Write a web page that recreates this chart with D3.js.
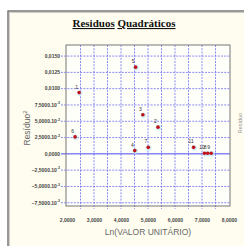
<!DOCTYPE html>
<html lang="en">
<head>
    <meta charset="UTF-8">
    <title>Residuos Quadraticos</title>
    <style>
        body { margin: 0; background: #fff; }
        svg { display: block; }
    </style>
    <script src="https://cdn.jsdelivr.net/npm/d3@7"></script>
</head>
<body>
    <svg id="chart" width="244" height="246"></svg>
    <script>
        // data
        const pointIds = ["1", "2", "3", "4", "5", "6", "7", "8", "9", "10", "11"];
        const lnValues = [2.45, 5.37, 4.81, 4.51, 4.54, 2.30, 5.01, 7.21, 7.34, 7.09, 6.69];
        const residuals = [0.0094, 0.0041, 0.0060, 0.0005, 0.0133, 0.0026, 0.0010, 0.0001, 0.0001, 0.0001, 0.0010];
        const xTicks = [2, 3, 4, 5, 6, 7, 8];
        const yTicks = [-0.0075, -0.005, -0.0025, 0, 0.0025, 0.005, 0.0075, 0.01, 0.0125, 0.015];

        const svg = d3.select("#chart");
        const plot = { left: 66, right: 230, top: 45, bottom: 206 };

        // outer frame
        svg.append("rect").attr("x", 8).attr("y", 11).attr("width", 260).attr("height", 260)
            .attr("fill", "#fffdf0").attr("stroke", "#555").attr("stroke-width", 1.2);
        svg.append("path").attr("d", "M9.5,260 V12.5 H260")
            .attr("fill", "none").attr("stroke", "#ccc").attr("stroke-width", 1);

        // title, each word underlined
        const title = svg.append("text").attr("x", 124).attr("y", 27)
            .attr("text-anchor", "middle")
            .style("font-family", "'Liberation Serif', 'Times New Roman', serif")
            .style("font-size", "11px").style("font-weight", "bold").attr("fill", "#111");
        title.append("tspan").style("text-decoration", "underline").text("Residuos");
        title.append("tspan").text(" ");
        title.append("tspan").style("text-decoration", "underline").text("Quadráticos");

        const x = d3.scaleLinear().domain([2, 8]).range([67, 229]);
        const y = d3.scaleLinear().domain([-0.0080, 0.0167]).range([plot.bottom, plot.top]);

        // plot background
        svg.append("rect").attr("x", plot.left).attr("y", plot.top)
            .attr("width", plot.right - plot.left).attr("height", plot.bottom - plot.top)
            .attr("fill", "#fffffa");

        const grid = svg.append("g").attr("stroke", "#6f6cf5").attr("stroke-width", 0.8)
            .attr("stroke-dasharray", "2,1.2");

        // vertical grid every 0.5
        d3.range(2.5, 8, 0.5).forEach(v => {
            grid.append("line").attr("x1", x(v)).attr("x2", x(v))
                .attr("y1", plot.top).attr("y2", plot.bottom + 3);
        });

        // horizontal grid at each y tick
        yTicks.filter(v => v !== 0).forEach(v => {
            grid.append("line").attr("x1", plot.left - 5).attr("x2", plot.right)
                .attr("y1", y(v)).attr("y2", y(v));
        });

        // zero line
        svg.append("line").attr("x1", plot.left - 5).attr("x2", plot.right)
            .attr("y1", y(0)).attr("y2", y(0))
            .attr("stroke", "#4a48f0").attr("stroke-width", 1);

        // plot border
        svg.append("rect").attr("x", plot.left).attr("y", plot.top)
            .attr("width", plot.right - plot.left).attr("height", plot.bottom - plot.top)
            .attr("fill", "none").attr("stroke", "#777").attr("stroke-width", 1);

        const tickFont = "'Liberation Sans', Arial, sans-serif";

        // y tick labels
        const fmt4 = d3.format(".4f");
        yTicks.forEach(v => {
            const t = svg.append("text").attr("x", plot.left - 6).attr("y", y(v) + 1.8)
                .attr("text-anchor", "end")
                .style("font-family", tickFont).style("font-size", "5px")
                .style("font-weight", "bold").attr("fill", "#444");
            if (v === 0 || Math.abs(v) >= 0.01) {
                t.text(fmt4(v).replace(".", ","));
            } else {
                t.append("tspan").text(fmt4(v * 1000).replace(".", ",") + ".10");
                t.append("tspan").attr("dy", -2.5).style("font-size", "3.5px").text("-3");
            }
        });

        // x axis
        const xAxis = d3.axisBottom(x).tickValues(xTicks).tickSize(0).tickPadding(0)
            .tickFormat(d => fmt4(d).replace(".", ","));
        const gx = svg.append("g").attr("transform", `translate(0, ${plot.bottom + 12})`).call(xAxis);
        gx.select(".domain").remove();
        gx.selectAll("text").style("font-family", tickFont).style("font-size", "5px")
            .style("font-weight", "bold").attr("fill", "#444");

        // axis titles
        svg.append("text").attr("x", 148).attr("y", 235).attr("text-anchor", "middle")
            .style("font-family", tickFont).style("font-size", "8.5px").attr("fill", "#666")
            .text("Ln(VALOR UNITÁRIO)");

        const yl = svg.append("text").attr("transform", "translate(30, 128) rotate(-90)")
            .attr("text-anchor", "middle")
            .style("font-family", tickFont).style("font-size", "8.5px").attr("fill", "#666");
        yl.append("tspan").text("Resíduo");
        yl.append("tspan").attr("dy", -3).style("font-size", "6px").text("2");

        // faint label on the right edge
        svg.append("text").attr("transform", "translate(242, 123) rotate(-90)")
            .attr("text-anchor", "middle")
            .style("font-family", tickFont).style("font-size", "5.5px").attr("fill", "#999")
            .text("Resíduo");

        // points
        const pts = pointIds.map((id, i) => ({ id, lx: lnValues[i], r: residuals[i] }));
        const g = svg.append("g");
        g.selectAll("circle.halo").data(pts).enter().append("circle")
            .attr("cx", d => x(d.lx) + 0.5).attr("cy", d => y(d.r) + 0.5).attr("r", 2.8)
            .attr("fill", "#bfe8f0").attr("opacity", 0.7);
        g.selectAll("circle.dot").data(pts).enter().append("circle")
            .attr("cx", d => x(d.lx)).attr("cy", d => y(d.r)).attr("r", 1.8)
            .attr("fill", "#c0101a");
        g.selectAll("text").data(pts).enter().append("text")
            .attr("x", d => x(d.lx) - 2.5).attr("y", d => y(d.r) - 4)
            .attr("text-anchor", "middle")
            .style("font-family", tickFont).style("font-size", "5px").attr("fill", "#333")
            .text(d => d.id);
    </script>
</body>
</html>
